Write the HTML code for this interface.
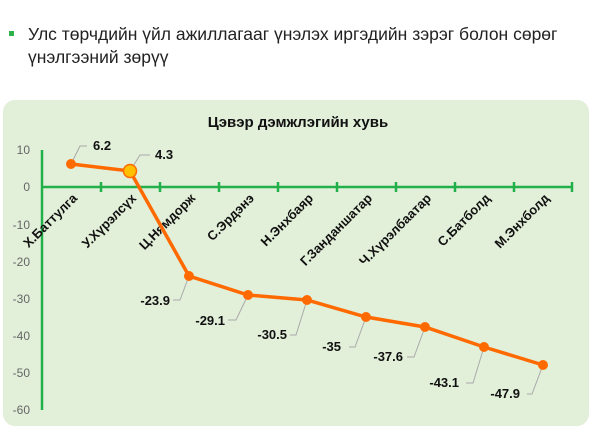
<!DOCTYPE html>
<html><head><meta charset="utf-8"><style>
body{margin:0;width:600px;height:429px;background:#fff;overflow:hidden;font-family:"Liberation Sans",sans-serif;}
</style></head><body>
<svg width="600" height="429" xmlns="http://www.w3.org/2000/svg" font-family="Liberation Sans, DejaVu Sans, sans-serif">
<rect x="9" y="31" width="5" height="5" fill="#2db34a"/>
<text x="28" y="40" font-size="17.5" fill="#222">Улс төрчдийн үйл ажиллагааг үнэлэх иргэдийн зэрэг болон сөрөг</text>
<text x="28" y="63" font-size="17.5" fill="#222">үнэлгээний зөрүү</text>
<rect x="3" y="100" width="586" height="326" rx="12" fill="#e2efd9"/>
<text x="298" y="127" font-size="15" font-weight="bold" text-anchor="middle" fill="#111">Цэвэр дэмжлэгийн хувь</text>
<g font-size="12" fill="#666" text-anchor="end">
<text x="30" y="154">10</text><text x="30" y="191">0</text><text x="30" y="229">-10</text><text x="30" y="266">-20</text><text x="30" y="303">-30</text><text x="30" y="340">-40</text><text x="30" y="377">-50</text><text x="30" y="414">-60</text>
</g>
<g stroke="#22b04b" stroke-width="2.5">
<line x1="42" y1="150" x2="42" y2="410"/>
<line x1="42" y1="187" x2="572" y2="187"/>
<line x1="101" y1="182" x2="101" y2="192"/><line x1="160" y1="182" x2="160" y2="192"/><line x1="219" y1="182" x2="219" y2="192"/><line x1="278" y1="182" x2="278" y2="192"/><line x1="337" y1="182" x2="337" y2="192"/><line x1="396" y1="182" x2="396" y2="192"/><line x1="455" y1="182" x2="455" y2="192"/><line x1="514" y1="182" x2="514" y2="192"/><line x1="572" y1="182" x2="572" y2="192"/>
</g>
<g font-size="13" font-weight="bold" fill="#111" text-anchor="end">
<text transform="translate(78,199) rotate(-45)">Х.Баттулга</text>
<text transform="translate(137,199) rotate(-45)">У.Хүрэлсүх</text>
<text transform="translate(196,199) rotate(-45)">Ц.Нямдорж</text>
<text transform="translate(255,199) rotate(-45)">С.Эрдэнэ</text>
<text transform="translate(314,199) rotate(-45)">Н.Энхбаяр</text>
<text transform="translate(373,199) rotate(-45)">Г.Занданшатар</text>
<text transform="translate(432,199) rotate(-45)">Ч.Хүрэлбаатар</text>
<text transform="translate(491,199) rotate(-45)">С.Батболд</text>
<text transform="translate(550,199) rotate(-45)">М.Энхболд</text>
</g>
<g stroke="#aaa" stroke-width="1" fill="none">
<polyline points="71,164 80,146 87,146"/>
<polyline points="130,171 140,155 150,155"/>
<polyline points="189,276 180,300 173,300"/>
<polyline points="248,295 236,320 228,320"/>
<polyline points="307,300 296,335 290,335"/>
<polyline points="366,317 355,347 349,347"/>
<polyline points="425,327 414,357 407,357"/>
<polyline points="484,347 473,383 466,383"/>
<polyline points="543,365 532,394 527,394"/>
</g>
<polyline points="71,164 130,171 189,276 248,295 307,300 366,317 425,327 484,347 543,365" fill="none" stroke="#ff6a00" stroke-width="3.5"/>
<g fill="#ff6a00">
<circle cx="71" cy="164" r="5"/><circle cx="189" cy="276" r="5"/><circle cx="248" cy="295" r="5"/><circle cx="307" cy="300" r="5"/><circle cx="366" cy="317" r="5"/><circle cx="425" cy="327" r="5"/><circle cx="484" cy="347" r="5"/><circle cx="543" cy="365" r="5"/>
</g>
<circle cx="130" cy="171" r="6.5" fill="#ffc000" stroke="#ff6a00" stroke-width="1.5"/>
<g font-size="13" font-weight="bold" fill="#111">
<text x="93" y="150">6.2</text>
<text x="155" y="159">4.3</text>
<g text-anchor="end">
<text x="170" y="305">-23.9</text>
<text x="225" y="325">-29.1</text>
<text x="287" y="339">-30.5</text>
<text x="341" y="351">-35</text>
<text x="403" y="361">-37.6</text>
<text x="459" y="387">-43.1</text>
<text x="520" y="398">-47.9</text>
</g></g>
</svg>
</body></html>
